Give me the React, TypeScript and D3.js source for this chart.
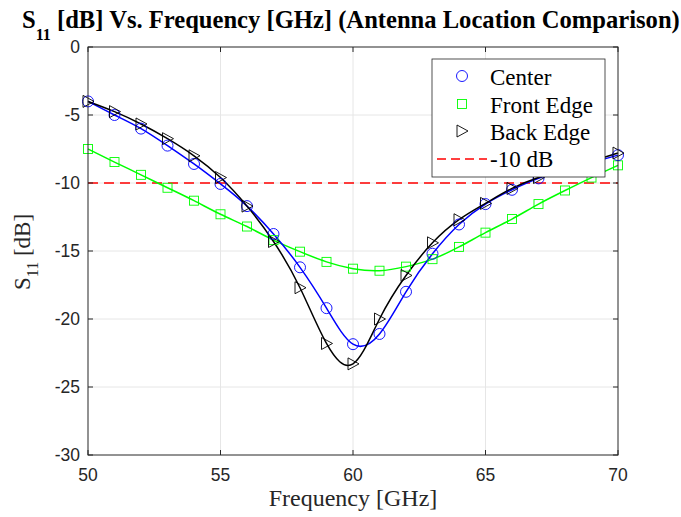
import React from "react";
import * as d3 from "d3";

const freqs = [50, 51, 52, 53, 54, 55, 56, 57, 58, 59, 60, 61, 62, 63, 64, 65, 66, 67, 68, 69, 70];
const centerVals = [-4.0, -5.0, -6.0, -7.25, -8.6, -10.07, -11.7, -13.75, -16.2, -19.2, -21.85, -21.1, -18.0, -15.2, -13.05, -11.55, -10.5, -9.66, -9.05, -8.5, -7.95];
const frontVals = [-7.5, -8.46, -9.4, -10.35, -11.3, -12.3, -13.2, -14.2, -15.05, -15.8, -16.3, -16.45, -16.15, -15.6, -14.7, -13.65, -12.65, -11.55, -10.55, -9.6, -8.7];
const backVals = [-4.0, -4.75, -5.66, -6.74, -8.0, -9.6, -11.7, -14.3, -17.7, -21.8, -23.3, -20.0, -16.8, -14.4, -12.7, -11.5, -10.4, -9.6, -9.0, -8.4, -7.8];
const xTicks = [50, 55, 60, 65, 70];
const yTicks = [0, -5, -10, -15, -20, -25, -30];
const legendLabels = ["Center", "Front Edge", "Back Edge", "-10 dB"];
const threshold = -10;

const W = 681, H = 517;
const L = 88, R = 618, T = 47, B = 455;

export default function App() {
  const x = d3.scaleLinear().domain([50, 70]).range([L, R]);
  const y = d3.scaleLinear().domain([-30, 0]).range([B, T]);
  const line = d3.line<number>().x((_, i) => x(freqs[i])).y((v) => y(v)).curve(d3.curveNatural);
  const sans = "'Liberation Sans', Arial, sans-serif";
  const serif = "'Liberation Serif', 'Times New Roman', serif";

  const circle = (cx: number, cy: number, k: string) => (
    <circle key={k} cx={cx} cy={cy} r={5.5} fill="none" stroke="#0000ff" strokeWidth={0.9} />
  );
  const square = (cx: number, cy: number, k: string) => (
    <rect key={k} x={cx - 4.5} y={cy - 4.5} width={9} height={9} fill="none" stroke="#00ff00" strokeWidth={0.9} />
  );
  const tri = (cx: number, cy: number, k: string) => (
    <path key={k} d={`M${cx - 5},${cy - 6} L${cx + 6},${cy} L${cx - 5},${cy + 6} Z`} fill="none" stroke="#000" strokeWidth={0.9} />
  );

  const legX = 432, legY = 59, legW = 173, legH = 118;
  const rowY = [76, 104, 131, 158];

  return (
    <svg width={W} height={H} style={{ position: "absolute", left: 0, top: 0, background: "#fff" }}>
      <rect x={0} y={0} width={W} height={H} fill="#fff" />
      {/* grid */}
      {xTicks.slice(1, -1).map((t) => (
        <line key={"gx" + t} x1={x(t)} x2={x(t)} y1={T} y2={B} stroke="#e6e6e6" strokeWidth={1} />
      ))}
      {yTicks.slice(1, -1).map((t) => (
        <line key={"gy" + t} x1={L} x2={R} y1={y(t)} y2={y(t)} stroke="#e6e6e6" strokeWidth={1} />
      ))}
      {/* threshold */}
      <line x1={L} x2={R} y1={y(threshold)} y2={y(threshold)} stroke="#ff0000" strokeWidth={1.5} strokeDasharray="10,6" />
      {/* lines */}
      <path d={line(frontVals) || ""} fill="none" stroke="#00ff00" strokeWidth={1.5} />
      <path d={line(centerVals) || ""} fill="none" stroke="#0000ff" strokeWidth={1.5} />
      <path d={line(backVals) || ""} fill="none" stroke="#000" strokeWidth={1.5} />
      {/* markers */}
      {frontVals.map((v, i) => square(x(freqs[i]), y(v), "s" + i))}
      {centerVals.map((v, i) => circle(x(freqs[i]), y(v), "c" + i))}
      {backVals.map((v, i) => tri(x(freqs[i]), y(v), "t" + i))}
      {/* axes box */}
      <rect x={L} y={T} width={R - L} height={B - T} fill="none" stroke="#262626" strokeWidth={1} />
      {xTicks.map((t) => (
        <g key={"xt" + t}>
          <line x1={x(t)} x2={x(t)} y1={B} y2={B - 5} stroke="#262626" />
          <line x1={x(t)} x2={x(t)} y1={T} y2={T + 5} stroke="#262626" />
          <text x={x(t)} y={481} textAnchor="middle" fontFamily={sans} fontSize={17.5} fill="#262626">{t}</text>
        </g>
      ))}
      {yTicks.map((t) => (
        <g key={"yt" + t}>
          <line x1={L} x2={L + 5} y1={y(t)} y2={y(t)} stroke="#262626" />
          <line x1={R} x2={R - 5} y1={y(t)} y2={y(t)} stroke="#262626" />
          <text x={80} y={y(t) + 6} textAnchor="end" fontFamily={sans} fontSize={17.5} fill="#262626">{t}</text>
        </g>
      ))}
      {/* axis labels */}
      <text x={353} y={506} textAnchor="middle" fontFamily={serif} fontSize={24} fill="#262626">Frequency [GHz]</text>
      <text transform={`translate(30,${252}) rotate(-90)`} textAnchor="middle" fontFamily={serif} fontSize={23} fill="#262626">
        S<tspan fontSize={16} dy={8}>11</tspan><tspan dy={-8}> [dB]</tspan>
      </text>
      {/* title */}
      <text x={22} y={28} textAnchor="start" fontFamily={serif} fontSize={24.6} fontWeight="bold" fill="#000">
        S<tspan fontSize={16} dy={12}>11</tspan><tspan dy={-12}> [dB] Vs. Frequency [GHz] (Antenna Location Comparison)</tspan>
      </text>
      {/* legend */}
      <rect x={legX} y={legY} width={legW} height={legH} fill="#fff" stroke="#262626" strokeWidth={0.8} />
      {circle(462, rowY[0], "lc")}
      {square(462, rowY[1], "ls")}
      {tri(462, rowY[2], "lt")}
      <line x1={437} x2={487} y1={rowY[3] + 1} y2={rowY[3] + 1} stroke="#ff0000" strokeWidth={1.5} strokeDasharray="9,5" />
      {legendLabels.map((lab, i) => (
        <text key={lab} x={490} y={rowY[i] + 9} fontFamily={serif} fontSize={23} fill="#000">{lab}</text>
      ))}
    </svg>
  );
}
